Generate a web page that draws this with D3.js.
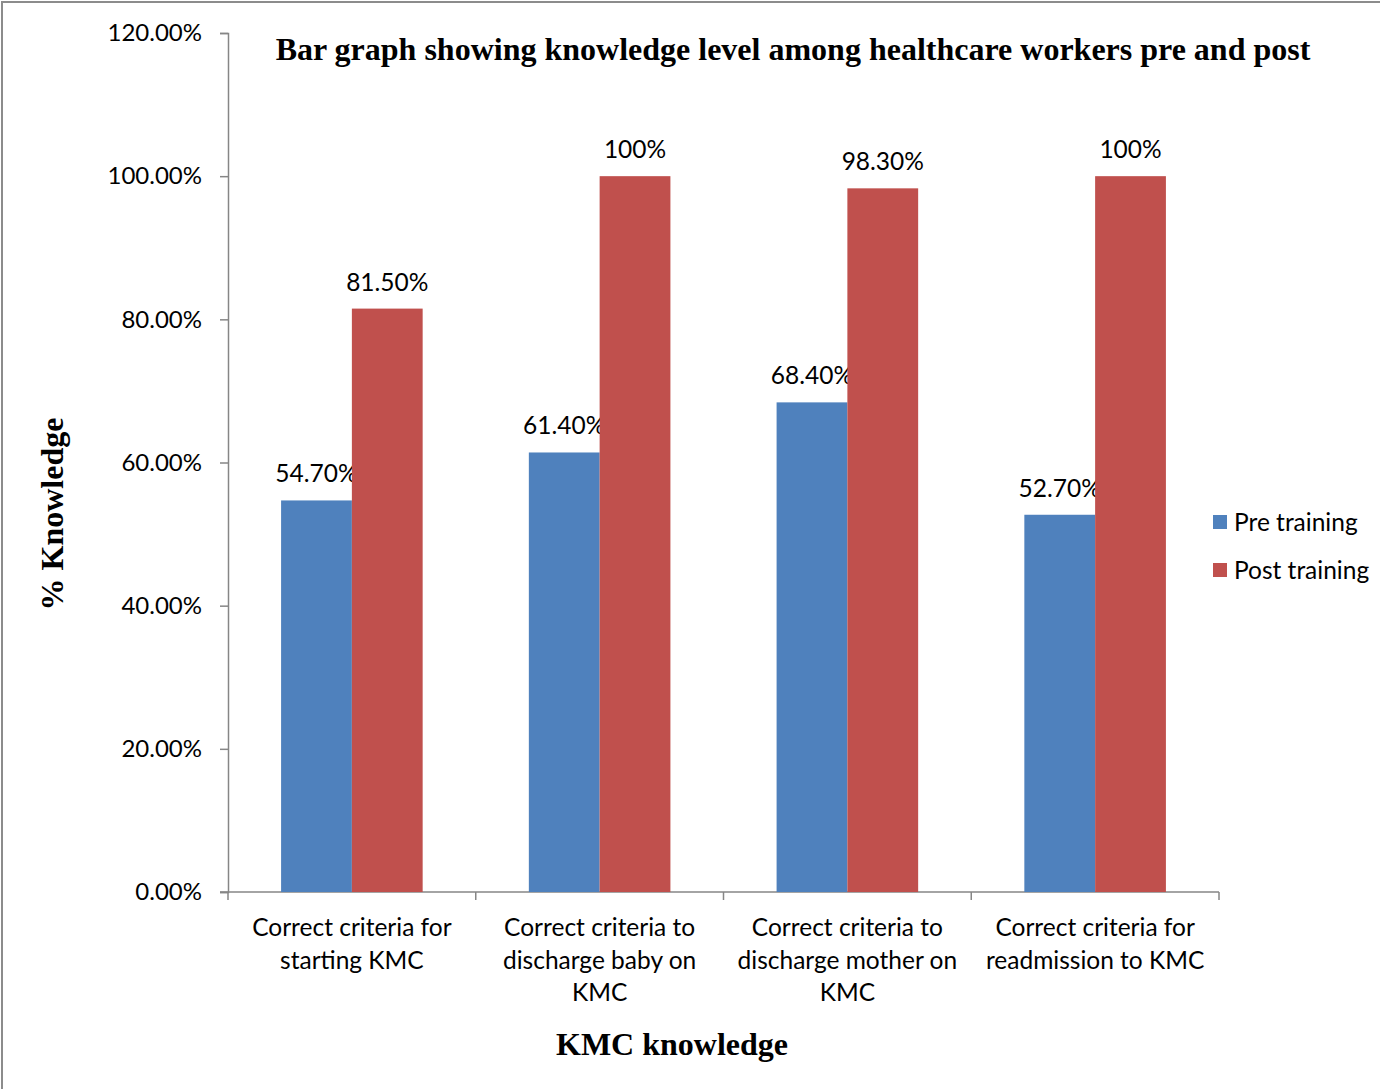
<!DOCTYPE html>
<html>
<head>
<meta charset="utf-8">
<script src="https://cdn.jsdelivr.net/npm/d3@7"></script>
<style>
  body { margin: 0; background: #fff; }
  svg text { fill: #000; }
</style>
</head>
<body>
<svg id="chart" width="1380" height="1089"></svg>
<script>
const categories = [
  ["Correct criteria for", "starting KMC"],
  ["Correct criteria to", "discharge baby on", "KMC"],
  ["Correct criteria to", "discharge mother on", "KMC"],
  ["Correct criteria for", "readmission to KMC"]
];
const seriesNames = ["Pre training", "Post training"];
const preValues = [54.7, 61.4, 68.4, 52.7];
const postValues = [81.5, 100, 98.3, 100];
const preLabels = ["54.70%", "61.40%", "68.40%", "52.70%"];
const postLabels = ["81.50%", "100%", "98.30%", "100%"];
const yTicks = [0, 20, 40, 60, 80, 100, 120];

const colors = ["#4f81bd", "#c0504d"];
const axisColor = "#868686";
const labelFont = "Lato, 'Open Sans', sans-serif";
const serifFont = "'Liberation Serif', 'Times New Roman', serif";
const labelSize = "24.5px";

const svg = d3.select("#chart");
const margin = { left: 228, right: 1219, top: 33, bottom: 892 };

// frame
svg.append("rect")
  .attr("x", 2).attr("y", 2)
  .attr("width", 1400).attr("height", 1200)
  .attr("fill", "none")
  .attr("stroke", "#8c8c8c")
  .attr("stroke-width", 2);

const x = d3.scaleBand()
  .domain(d3.range(categories.length))
  .range([margin.left, margin.right])
  .paddingInner(0)
  .paddingOuter(0);

const y = d3.scaleLinear().domain([0, 120]).range([margin.bottom, margin.top]);

// y axis
const yAxis = svg.append("g")
  .attr("transform", `translate(${margin.left},0)`)
  .call(d3.axisLeft(y).tickValues(yTicks).tickSize(8).tickPadding(18)
    .tickFormat((d) => d3.format(".2f")(d) + "%"));
yAxis.select(".domain").attr("stroke", axisColor).attr("stroke-width", 1.5);
yAxis.selectAll(".tick line").attr("stroke", axisColor).attr("stroke-width", 1.5);
yAxis.selectAll(".tick text")
  .style("font-family", labelFont).style("font-size", "24px");

// x axis line with ticks at boundaries
svg.append("line")
  .attr("x1", margin.left - 8).attr("x2", margin.right)
  .attr("y1", y(0)).attr("y2", y(0))
  .attr("stroke", axisColor).attr("stroke-width", 1.5);
const bounds = d3.range(categories.length + 1).map((i) =>
  i < categories.length ? x(i) : x(i - 1) + x.bandwidth());
svg.selectAll(".xtick").data(bounds).join("line")
  .attr("class", "xtick")
  .attr("x1", (d) => d).attr("x2", (d) => d)
  .attr("y1", y(0)).attr("y2", y(0) + 8)
  .attr("stroke", axisColor).attr("stroke-width", 1.5);

const inner = d3.scaleBand()
  .domain([0, 1])
  .range([0, x.bandwidth()])
  .paddingInner(0)
  .paddingOuter(0.75);

const series = [preValues, postValues];
const seriesLabels = [preLabels, postLabels];

series.forEach((vals, s) => {
  svg.append("g").selectAll("rect").data(vals).join("rect")
    .attr("x", (d, i) => x(i) + inner(s))
    .attr("y", (d) => y(d))
    .attr("width", inner.bandwidth())
    .attr("height", (d) => y(0) - y(d))
    .attr("fill", colors[s]);
  svg.append("g").selectAll("text").data(vals).join("text")
    .attr("x", (d, i) => x(i) + inner(s) + inner.bandwidth() / 2)
    .attr("y", (d) => y(d) - 18)
    .attr("text-anchor", "middle")
    .style("font-family", labelFont).style("font-size", labelSize)
    .text((d, i) => seriesLabels[s][i]);
});

// category labels
categories.forEach((lines, i) => {
  const t = svg.append("text")
    .attr("text-anchor", "middle")
    .style("font-family", labelFont).style("font-size", labelSize);
  lines.forEach((ln, j) => {
    t.append("tspan")
      .attr("x", x(i) + x.bandwidth() / 2)
      .attr("y", 936 + j * 32.5)
      .text(ln);
  });
});

// title
svg.append("text")
  .attr("x", 793).attr("y", 60)
  .attr("text-anchor", "middle")
  .style("font-family", serifFont).style("font-size", "32px").style("font-weight", "bold")
  .text("Bar graph showing knowledge level among healthcare workers pre and post");

// axis titles
svg.append("text")
  .attr("transform", "translate(63,514) rotate(-90)")
  .attr("text-anchor", "middle")
  .style("font-family", serifFont).style("font-size", "32px").style("font-weight", "bold")
  .text("% Knowledge");
svg.append("text")
  .attr("x", 672).attr("y", 1055)
  .attr("text-anchor", "middle")
  .style("font-family", serifFont).style("font-size", "32px").style("font-weight", "bold")
  .text("KMC knowledge");

// legend
const legend = svg.append("g").attr("transform", "translate(1213,515)");
seriesNames.forEach((name, s) => {
  const g = legend.append("g").attr("transform", `translate(0,${s * 48})`);
  g.append("rect").attr("width", 14).attr("height", 14).attr("fill", colors[s]);
  g.append("text").attr("x", 21).attr("y", 16)
    .style("font-family", labelFont).style("font-size", labelSize)
    .text(name);
});
</script>
</body>
</html>
